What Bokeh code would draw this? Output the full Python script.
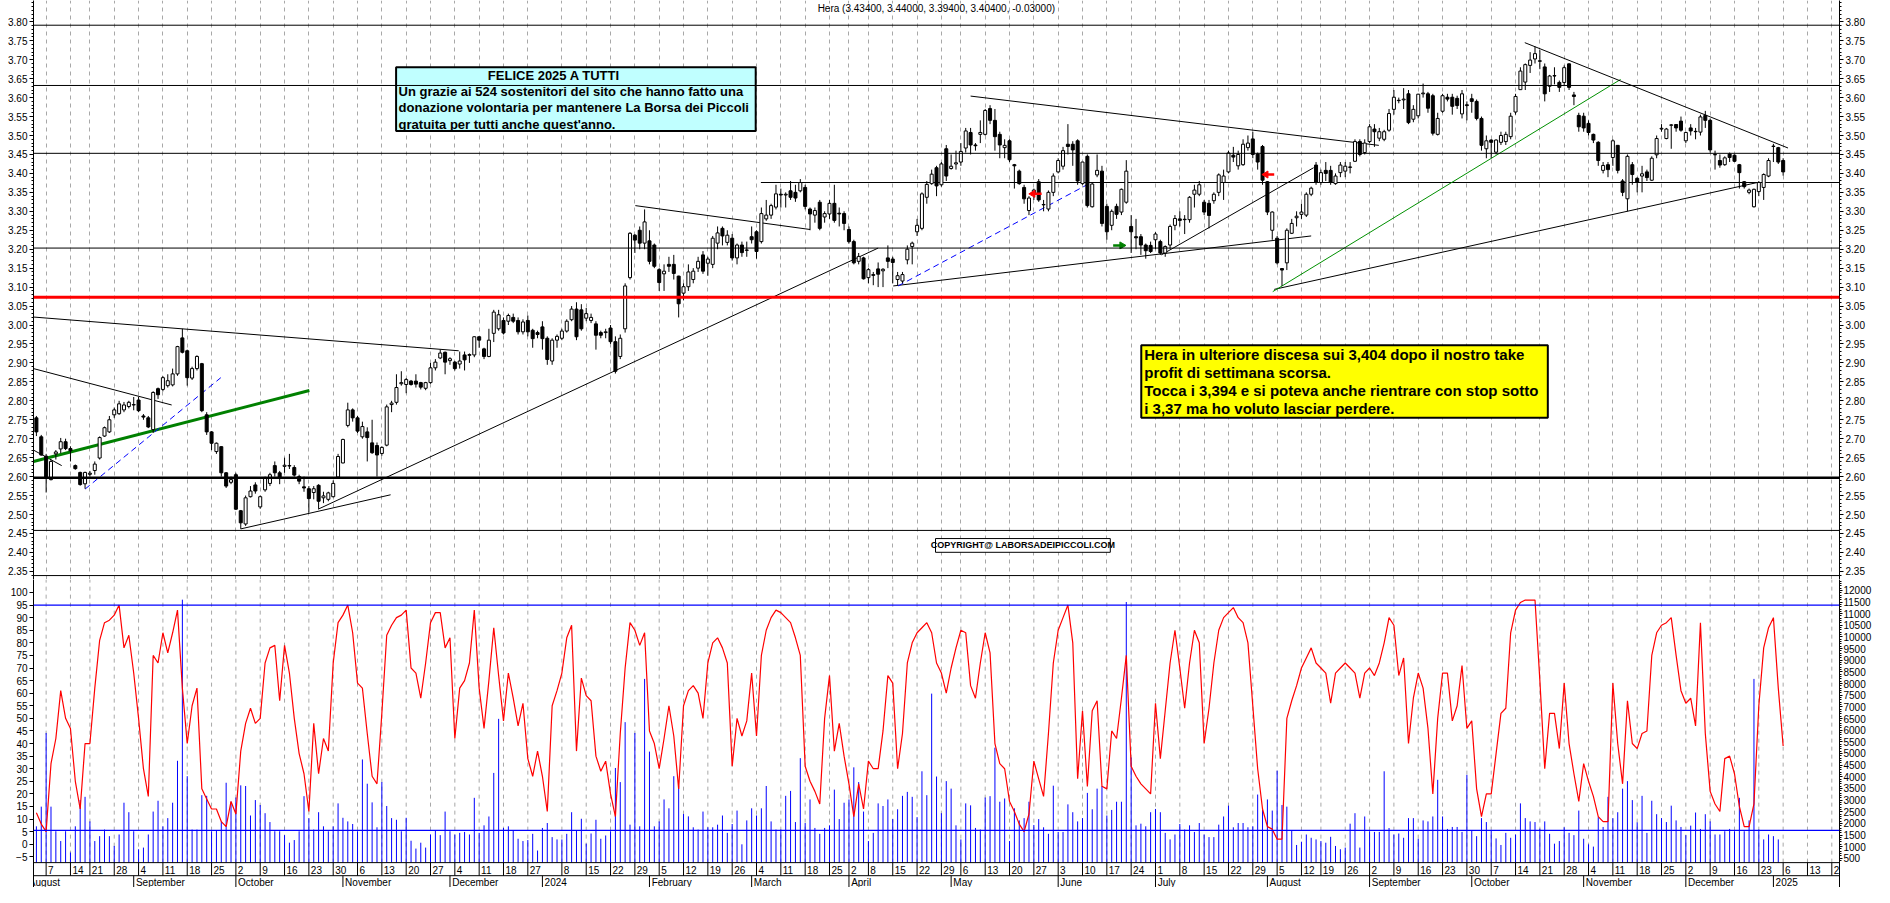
import numpy as np
import pandas as pd
from bokeh.plotting import figure
from bokeh.models import (Range1d, LinearAxis, FixedTicker, Grid, Span,
                          ColumnDataSource, PrintfTickFormatter)
from bokeh.layouts import column
from bokeh.core.properties import value
from bokeh.embed import file_html
from bokeh.resources import INLINE

# ---------------- data ----------------
FIRST_DAY = "2023-08-03"
CAL_START = "2023-08-01"
CAL_END = "2025-01-31"
HOLIDAYS = ["2023-08-15", "2023-12-25", "2023-12-26", "2024-01-01", "2024-03-29",
            "2024-04-01", "2024-05-01", "2024-08-15", "2024-12-24", "2024-12-25",
            "2024-12-26", "2024-12-31", "2025-01-01"]

open_ = [
 2.755,2.705,2.654,2.592,2.660,2.673,2.692,2.674,2.629,2.611,
 2.581,2.606,2.616,2.649,2.707,2.718,2.763,2.766,2.776,2.785,
 2.790,2.802,2.760,2.755,2.724,2.832,2.830,2.840,2.842,2.871,
 2.966,2.932,2.860,2.885,2.898,2.763,2.718,2.666,2.679,2.610,
 2.585,2.605,2.510,2.475,2.547,2.578,2.520,2.565,2.582,2.629,
 2.610,2.627,2.629,2.624,2.600,2.573,2.568,2.558,2.577,2.544,
 2.540,2.547,2.599,2.636,2.735,2.776,2.755,2.705,2.718,2.689,
 2.682,2.661,2.683,2.790,2.796,2.845,2.843,2.852,2.852,2.848,
 2.833,2.848,2.887,2.913,2.928,2.906,2.902,2.897,2.921,2.920,
 2.921,2.969,2.937,2.917,2.978,2.990,3.012,3.010,3.020,3.012,
 2.982,3.012,2.986,2.980,2.995,2.965,2.905,2.960,2.965,2.984,
 3.014,3.042,3.040,3.018,3.012,3.003,2.980,2.980,2.992,2.956,
 2.917,2.990,3.125,3.237,3.250,3.216,3.222,3.211,3.146,3.135,
 3.160,3.160,3.129,3.084,3.101,3.120,3.150,3.185,3.163,3.160,
 3.216,3.255,3.218,3.229,3.177,3.211,3.198,3.233,3.246,3.220,
 3.280,3.290,3.311,3.345,3.343,3.354,3.350,3.354,3.363,3.306,
 3.290,3.324,3.285,3.293,3.321,3.295,3.294,3.252,3.220,3.168,
 3.177,3.125,3.133,3.148,3.143,3.177,3.174,3.120,3.116,3.172,
 3.207,3.246,3.255,3.337,3.373,3.415,3.370,3.465,3.413,3.425,
 3.430,3.467,3.508,3.475,3.503,3.503,3.571,3.540,3.503,3.468,
 3.486,3.423,3.406,3.363,3.302,3.345,3.378,3.318,3.306,3.350,
 3.404,3.419,3.477,3.477,3.486,3.373,3.445,3.312,3.396,3.406,
 3.313,3.263,3.313,3.298,3.324,3.260,3.233,3.233,3.211,3.210,
 3.225,3.220,3.190,3.211,3.263,3.280,3.279,3.278,3.345,3.345,
 3.324,3.321,3.328,3.350,3.376,3.404,3.448,3.420,3.423,3.468,
 3.491,3.451,3.471,3.378,3.250,3.229,3.149,3.164,3.242,3.283,
 3.292,3.290,3.345,3.422,3.376,3.408,3.408,3.373,3.402,3.406,
 3.417,3.432,3.484,3.455,3.484,3.517,3.493,3.490,3.514,3.569,
 3.593,3.594,3.610,3.543,3.552,3.610,3.610,3.605,3.503,3.564,
 3.601,3.601,3.598,3.557,3.581,3.597,3.590,3.545,3.465,3.488,
 3.456,3.482,3.484,3.497,3.562,3.621,3.641,3.685,3.702,3.697,
 3.681,3.630,3.658,3.640,3.640,3.689,3.607,3.553,3.551,3.532,
 3.503,3.482,3.408,3.423,3.442,3.474,3.380,3.333,3.423,3.387,
 3.393,3.404,3.382,3.449,3.517,3.492,3.527,3.529,3.538,3.486,
 3.520,3.511,3.509,3.553,3.540,3.450,3.434,3.423,3.451,3.448,
 3.423,3.378,3.350,3.312,3.352,3.363,3.393,3.472,3.468,3.434]

high = [
 2.760,2.710,2.660,2.645,2.670,2.702,2.700,2.680,2.632,2.613,
 2.613,2.615,2.640,2.706,2.732,2.760,2.782,2.800,2.797,2.800,
 2.810,2.810,2.765,2.760,2.825,2.835,2.865,2.870,2.885,2.945,
 2.990,2.935,2.890,2.920,2.900,2.770,2.720,2.690,2.680,2.612,
 2.600,2.610,2.512,2.550,2.575,2.585,2.550,2.600,2.610,2.640,
 2.615,2.650,2.660,2.630,2.605,2.600,2.575,2.575,2.580,2.560,
 2.560,2.590,2.660,2.700,2.795,2.780,2.760,2.745,2.730,2.750,
 2.690,2.680,2.790,2.800,2.870,2.878,2.860,2.855,2.870,2.850,
 2.850,2.900,2.910,2.935,2.930,2.915,2.905,2.930,2.930,2.925,
 2.970,2.970,2.940,2.990,3.040,3.040,3.020,3.030,3.030,3.020,
 3.015,3.025,2.990,2.985,3.010,2.970,2.965,2.975,2.990,3.015,
 3.050,3.060,3.055,3.045,3.030,3.010,2.985,2.990,3.000,2.970,
 2.975,3.110,3.245,3.240,3.260,3.305,3.250,3.215,3.150,3.160,
 3.180,3.185,3.130,3.110,3.160,3.150,3.180,3.195,3.180,3.235,
 3.260,3.260,3.250,3.240,3.215,3.220,3.220,3.260,3.250,3.310,
 3.330,3.320,3.370,3.360,3.350,3.380,3.370,3.385,3.370,3.310,
 3.310,3.330,3.300,3.330,3.370,3.310,3.300,3.260,3.225,3.190,
 3.180,3.150,3.140,3.165,3.150,3.210,3.180,3.140,3.140,3.210,
 3.220,3.280,3.350,3.380,3.410,3.420,3.430,3.475,3.450,3.460,
 3.480,3.520,3.520,3.480,3.540,3.570,3.580,3.570,3.510,3.490,
 3.490,3.425,3.410,3.370,3.340,3.360,3.385,3.330,3.355,3.400,
 3.440,3.470,3.530,3.485,3.490,3.430,3.450,3.375,3.450,3.420,
 3.320,3.305,3.320,3.360,3.435,3.290,3.280,3.240,3.215,3.220,
 3.245,3.225,3.210,3.265,3.290,3.300,3.290,3.340,3.370,3.380,
 3.330,3.330,3.350,3.400,3.410,3.460,3.470,3.460,3.490,3.500,
 3.510,3.455,3.475,3.380,3.300,3.235,3.150,3.255,3.280,3.300,
 3.320,3.350,3.365,3.430,3.410,3.430,3.420,3.400,3.430,3.430,
 3.430,3.490,3.490,3.490,3.530,3.530,3.520,3.515,3.570,3.620,
 3.600,3.625,3.620,3.580,3.610,3.637,3.615,3.610,3.560,3.610,
 3.610,3.610,3.605,3.620,3.590,3.610,3.595,3.550,3.500,3.490,
 3.490,3.510,3.510,3.560,3.610,3.680,3.690,3.720,3.735,3.725,
 3.690,3.660,3.680,3.645,3.685,3.690,3.615,3.560,3.560,3.540,
 3.505,3.485,3.430,3.430,3.490,3.475,3.385,3.450,3.430,3.390,
 3.420,3.410,3.445,3.500,3.530,3.520,3.530,3.530,3.550,3.510,
 3.530,3.520,3.555,3.565,3.545,3.460,3.450,3.445,3.455,3.450,
 3.425,3.380,3.360,3.360,3.380,3.400,3.440,3.478,3.470,3.440]

low = [
 2.707,2.655,2.558,2.590,2.645,2.662,2.670,2.640,2.618,2.576,
 2.568,2.600,2.605,2.645,2.705,2.715,2.755,2.763,2.770,2.780,
 2.775,2.770,2.750,2.728,2.715,2.805,2.825,2.835,2.838,2.866,
 2.925,2.840,2.855,2.880,2.770,2.710,2.670,2.660,2.600,2.570,
 2.580,2.512,2.462,2.470,2.545,2.555,2.515,2.560,2.575,2.600,
 2.580,2.610,2.620,2.600,2.580,2.560,2.505,2.540,2.515,2.530,
 2.535,2.545,2.595,2.635,2.730,2.745,2.715,2.700,2.640,2.660,
 2.600,2.655,2.680,2.770,2.790,2.840,2.820,2.840,2.835,2.830,
 2.828,2.845,2.880,2.910,2.870,2.895,2.880,2.885,2.880,2.900,
 2.915,2.940,2.910,2.915,2.955,2.985,2.975,3.000,3.005,2.975,
 2.975,2.970,2.940,2.965,2.935,2.895,2.895,2.940,2.960,2.980,
 3.010,2.960,2.985,3.010,3.005,2.935,2.965,2.965,2.950,2.872,
 2.910,2.980,3.120,3.190,3.200,3.200,3.160,3.150,3.090,3.090,
 3.140,3.120,3.020,3.065,3.090,3.110,3.140,3.135,3.130,3.150,
 3.200,3.210,3.210,3.170,3.160,3.180,3.180,3.215,3.175,3.215,
 3.275,3.280,3.305,3.310,3.310,3.330,3.325,3.350,3.305,3.250,
 3.270,3.250,3.270,3.280,3.270,3.260,3.250,3.215,3.160,3.160,
 3.120,3.110,3.105,3.100,3.100,3.150,3.110,3.105,3.110,3.160,
 3.160,3.235,3.250,3.320,3.370,3.340,3.365,3.380,3.410,3.410,
 3.420,3.455,3.450,3.460,3.480,3.500,3.530,3.460,3.440,3.440,
 3.430,3.360,3.370,3.320,3.290,3.330,3.325,3.300,3.300,3.340,
 3.400,3.410,3.450,3.420,3.370,3.370,3.310,3.310,3.390,3.260,
 3.225,3.250,3.280,3.290,3.320,3.190,3.200,3.185,3.175,3.190,
 3.200,3.185,3.180,3.200,3.250,3.260,3.240,3.270,3.310,3.340,
 3.290,3.255,3.320,3.340,3.330,3.400,3.430,3.410,3.420,3.460,
 3.440,3.410,3.370,3.290,3.225,3.160,3.103,3.145,3.240,3.260,
 3.280,3.285,3.340,3.370,3.370,3.380,3.370,3.370,3.390,3.390,
 3.400,3.430,3.445,3.450,3.480,3.470,3.485,3.485,3.510,3.555,
 3.585,3.570,3.530,3.535,3.545,3.600,3.560,3.500,3.500,3.560,
 3.590,3.555,3.570,3.545,3.540,3.560,3.540,3.460,3.440,3.440,
 3.450,3.475,3.475,3.490,3.555,3.620,3.620,3.665,3.690,3.675,
 3.590,3.615,3.635,3.615,3.630,3.620,3.580,3.510,3.510,3.500,
 3.480,3.420,3.400,3.390,3.420,3.400,3.340,3.300,3.370,3.350,
 3.350,3.380,3.380,3.440,3.510,3.490,3.465,3.510,3.510,3.480,
 3.500,3.490,3.500,3.520,3.455,3.410,3.415,3.420,3.430,3.430,
 3.360,3.360,3.345,3.310,3.340,3.330,3.390,3.430,3.425,3.394]

close = [
 2.718,2.657,2.599,2.640,2.665,2.692,2.674,2.668,2.621,2.579,
 2.611,2.609,2.633,2.703,2.729,2.750,2.776,2.792,2.789,2.796,
 2.789,2.774,2.757,2.731,2.822,2.816,2.861,2.853,2.871,2.943,
 2.928,2.861,2.885,2.917,2.774,2.718,2.688,2.688,2.610,2.575,
 2.592,2.514,2.478,2.544,2.562,2.562,2.547,2.597,2.605,2.610,
 2.599,2.630,2.628,2.604,2.588,2.570,2.542,2.568,2.535,2.549,
 2.557,2.582,2.653,2.698,2.776,2.755,2.720,2.732,2.703,2.663,
 2.657,2.677,2.784,2.794,2.835,2.848,2.856,2.843,2.844,2.836,
 2.848,2.887,2.902,2.926,2.902,2.911,2.885,2.905,2.908,2.922,
 2.969,2.960,2.917,2.960,3.034,3.027,2.979,3.025,3.010,2.982,
 3.008,2.982,2.964,2.975,2.964,2.909,2.960,2.970,2.984,3.010,
 3.042,2.969,2.990,3.030,3.020,2.973,2.973,2.982,2.956,2.878,
 2.965,3.103,3.242,3.224,3.216,3.272,3.168,3.155,3.112,3.142,
 3.155,3.136,3.056,3.101,3.140,3.142,3.168,3.142,3.174,3.229,
 3.243,3.235,3.237,3.177,3.211,3.191,3.197,3.225,3.194,3.294,
 3.290,3.315,3.346,3.343,3.345,3.337,3.335,3.376,3.313,3.293,
 3.302,3.255,3.294,3.321,3.276,3.293,3.268,3.220,3.164,3.181,
 3.122,3.146,3.131,3.134,3.147,3.168,3.165,3.130,3.133,3.200,
 3.216,3.263,3.346,3.371,3.398,3.367,3.425,3.393,3.419,3.428,
 3.458,3.512,3.475,3.473,3.508,3.566,3.540,3.497,3.475,3.474,
 3.436,3.420,3.373,3.333,3.335,3.356,3.330,3.317,3.350,3.393,
 3.434,3.460,3.471,3.462,3.380,3.430,3.315,3.372,3.408,3.268,
 3.246,3.300,3.292,3.358,3.406,3.246,3.230,3.211,3.196,3.194,
 3.240,3.190,3.207,3.260,3.281,3.276,3.278,3.337,3.356,3.370,
 3.298,3.289,3.345,3.396,3.393,3.454,3.443,3.450,3.477,3.480,
 3.450,3.430,3.382,3.298,3.298,3.164,3.145,3.250,3.268,3.287,
 3.298,3.345,3.361,3.376,3.402,3.400,3.376,3.393,3.422,3.419,
 3.416,3.484,3.450,3.480,3.523,3.510,3.510,3.510,3.558,3.601,
 3.592,3.596,3.534,3.569,3.609,3.612,3.572,3.506,3.545,3.605,
 3.596,3.577,3.579,3.610,3.579,3.590,3.545,3.474,3.486,3.482,
 3.488,3.500,3.503,3.551,3.603,3.670,3.687,3.699,3.716,3.696,
 3.610,3.657,3.657,3.627,3.679,3.627,3.603,3.523,3.520,3.508,
 3.488,3.434,3.421,3.410,3.486,3.408,3.350,3.445,3.397,3.376,
 3.399,3.389,3.440,3.492,3.519,3.517,3.528,3.520,3.514,3.508,
 3.512,3.510,3.549,3.540,3.462,3.449,3.422,3.441,3.442,3.432,
 3.402,3.365,3.356,3.358,3.376,3.397,3.434,3.471,3.430,3.404]

stoch = [
 12.5,8,5,32,42,61,50,46,25,14, 40,40,62,81,88,89,91,95,78,83,
 68,50,30,19,75,72,84,76,84,93, 62,40,55,62,22,18,14,14,9,7,
 17,12,37,48,54,48,50,72,78,79, 57,79,68,50,36,28,13,48,28,42,
 37,72,88,91,95,84,64,62,44,27, 24,52,83,87,90,91,93,70,68,58,
 72,88,92,92,78,82,42,62,65,72, 93,62,46,65,86,67,49,68,58,47,
 56,34,27,37,27,13,55,61,68,82, 87,37,66,59,57,35,29,33,20,11,
 44,70,88,85,79,84,45,40,30,42, 55,43,22,55,61,
 63,60,50,72,80,82,78,72,31,50, 43,49,68,43,75,85,90,93,92,90,
 88,82,75,31,25,21,16,50,67,37, 48,35,24,11,24,14,33,30,30,45,
 67,64,30,44,72,80,84,86,88,84, 72,68,60,70,78,85,84,63,58,72,
 84,76,40,32,30,17,13,8,5,12, 33,26,19,44,72,85,90,95,80,26,
 53,23,53,57,23,22,45,42,58,75, 31,27,24,22,20,56,34,53,72,85,
 70,54,72,85,80,40,54,72,85,90, 92,94,90,88,80,55,30,14,7,6,
 2,2,50,57,63,70,74,78,72,70, 68,56,68,70,72,70,68,58,68,70,
 67,72,80,90,
 87,67,74,40,58,68,62,46,20,50, 68,68,49,55,71,46,49,22,11,20,
 20,36,52,54,84,93,96,97,97,97, 65,30,52,52,38,64,40,28,17,32,
 25,19,11,9,9,64,40,24,57,40, 38,44,45,75,84,87,88,90,75,61,
 56,58,47,88,44,21,16,13,34,35, 28,15,7,7,16,55,78,86,90,62,
 39]

volume = [
 1873,2717,5880,2717,1662,1240,1662,749,1873,3000,
 3139,2084,1240,1451,1733,1451,1030,1522,2886,2478,
 1662,889,960,1522,2506,2970,1873,2225,2886,4685,
 11600,4024,1733,1733,3209,3181,1662,1690,2084,3743,
 2928,3110,3631,3603,2337,3000,2787,2436,2056,1662,
 1662,1494,1170,1283,1662,3167,2225,1733,2478,1873,
 1662,1873,2857,2239,2084,1972,1662,4742,3701,2900,
 1831,3771,2745,2225,2154,1662,2239,1254,917,1170,
 960,1522,1704,1494,2506,1662,1522,1592,1634,1522,
 3096,1592,1915,2295,4165,6485,1803,1873,1704,1339,
 1240,1283,1550,833,1803,2014,1409,1311,1311,1550,
 2478,1704,2197,1128,1564,2154,1339,1480,1662,4376,
 3771,6344,1944,5880,1873,8200,5079,1873,2084,3026,
 2646,4024,3617,2400,2300,
 1831,1733,2506,1831,1831,1944,2337,1592,1972,2548,
 1100,2126,2646,2337,2646,3603,2084,1733,1733,3181,
 3392,2056,4798,2014,3026,1803,1550,1803,1915,3448,
 2183,2886,3026,4404,3771,2506,1240,1592,2857,2745,
 3026,2183,2604,3181,3350,3139,2267,4235,3209,7568,
 4010,2436,3813,3490,1915,1311,2857,2773,1803,1733,
 3110,3167,5248,2928,3068,1240,2646,2126,2225,2928,
 1930,2183,1831,1550,3617,1634,1634,2815,2478,2084,
 2225,3307,2604,3490,3603,2337,2576,2928,2928,11500,
 4826,1915,1986,1873,2478,2618,2478,1592,1311,1522,
 1972,1733,1915,1634,2014,1522,1409,1409,1944,2295,
 2759,1831,2014,2014,1831,1873,3237,2576,3026,2548,
 4263,2787,2717,1690,1072,1212,1522,1381,1311,1240,
 1170,1423,1030,889,960,1986,2436,960,2295,1662,
 1634,1634,4235,1800,
 1522,1564,1381,2225,2225,1339,2126,2084,2295,3870,
 2295,1761,1845,1845,1634,4081,1704,1451,2225,2056,
 1704,1353,1072,1592,1381,1522,2857,2225,2084,2056,
 1775,2084,1550,1128,1240,1831,1592,1494,2548,1339,
 1100,1002,2267,1845,3139,2225,2478,3490,3813,2998,
 2042,3181,1592,2970,2393,2225,2056,2759,2126,1845,
 1494,1902,2464,1761,2393,2084,1522,1522,1662,1761,
 1662,3096,1662,2126,8200,1733,1311,1522,1451,1311]

# horizontal support / resistance levels (price, width, colour)
levels = [(3.791, 1, "black"), (3.632, 1, "black"), (3.453, 1, "black"),
          (3.203, 1, "black"), (3.073, 3, "red"), (2.597, 2.5, "black"),
          (2.458, 1, "black")]
partial_level = (148.9, 3.376)   # starts at trading-day index 148.9

# drawn trend lines: (i0, p0, i1, p1, colour, width, dash)
trend_lines = [
    (-0.6, 3.021, 86.8, 2.932, "black", 1, "solid"),
    (-0.6, 2.885, 27.8, 2.789, "black", 1, "solid"),
    (-0.6, 2.670, 5.2, 2.629, "black", 1, "solid"),
    (-0.6, 2.640, 56.1, 2.827, "#008000", 3, "solid"),
    (10.0, 2.567, 37.9, 2.861, "blue", 1, "6 4"),
    (42.0, 2.462, 72.8, 2.552, "black", 1, "solid"),
    (57.9, 2.514, 173.0, 3.203, "black", 1, "solid"),
    (123.1, 3.315, 159.0, 3.252, "black", 1, "solid"),
    (176.1, 3.103, 262.0, 3.235, "black", 1, "solid"),
    (192.0, 3.604, 275.9, 3.474, "black", 1, "solid"),
    (231.2, 3.185, 262.5, 3.415, "black", 1, "solid"),
    (254.4, 3.094, 353.7, 3.376, "black", 1, "solid"),
    (254.1, 3.088, 325.6, 3.648, "#009000", 1, "solid"),
    (305.9, 3.745, 360.0, 3.467, "black", 1, "solid"),
    (177.1, 3.103, 216.8, 3.376, "blue", 1, "6 4"),
]
# small arrows: (head index, tail index, price, colour)
arrows = [(204.8, 206.6, 3.346, "red"), (252.7, 254.4, 3.397, "red"),
          (223.1, 221.3, 3.210, "#008000")]

header = "Hera (3.43400, 3.44000, 3.39400, 3.40400, -0.03000)"
cyan_title = "FELICE 2025 A TUTTI"
cyan_lines = ["Un grazie ai 524 sostenitori del sito che hanno fatto una",
              "donazione volontaria per mantenere La Borsa dei Piccoli",
              "gratuita per tutti anche quest'anno."]
yellow_lines = ["Hera in ulteriore discesa sui 3,404 dopo il nostro take",
                "profit di settimana scorsa.",
                "Tocca i 3,394 e si poteva anche rientrare con stop sotto",
                "i 3,37 ma ho voluto lasciar perdere."]
copyright_text = "COPYRIGHT@ LABORSADEIPICCOLI.COM"
month_names = {2: "February", 3: "March", 4: "April", 5: "May", 6: "June",
               7: "July", 8: "August", 9: "September", 10: "October",
               11: "November", 12: "December"}

# ---------------- geometry helpers (reference pixels -> data) ----------------
def ix(xpx):
    return (xpx - 43.9) / 4.871

def py(ypx):
    return 3.80 - (ypx - 21.7) / 386.0

def vy(ypx):
    return (859.0 - ypx) / 2.561

def vv(ypx):
    return 500 + (873.3 - ypx) / 0.0237

FONT = "Liberation Sans"
W = 1874
SPLIT = 589.7          # reference pixel row where price frame ends
XR = Range1d(ix(41), ix(1849))

# ---------------- trading calendar ----------------
days = pd.bdate_range(CAL_START, CAL_END)
days = days[~days.isin(pd.to_datetime(HOLIDAYS))]
pos0 = int(np.where(days == pd.Timestamp(FIRST_DAY))[0][0])
cal = pd.DataFrame({"d": days, "i": np.arange(len(days)) - pos0})
cal["wk"] = cal["d"].dt.to_period("W-SUN")
cal["ym"] = cal["d"].dt.to_period("M")
year_first = cal.groupby(cal["d"].dt.year).first()
skip_weeks = set(year_first["wk"])
wk_first = cal.groupby("wk").first()
wk_first = wk_first[(wk_first["i"] >= 2) & (wk_first["i"] <= XR.end)]
wk_first = wk_first[[w not in skip_weeks for w in wk_first.index]]
week_idx = [int(v) for v in wk_first["i"]]
week_lbl = [str(d.day) for d in wk_first["d"]]
mo_first = cal.groupby("ym").first()
mo_first = mo_first[mo_first["i"] <= XR.end]
month_idx = [int(v) for v in mo_first["i"]]
month_lbl = [str(d.year) if d.month == 1 else month_names[d.month] for d in mo_first["d"]]

n = len(close)
xi = np.arange(n)
o = np.array(open_); c = np.array(close)

def style_axis(ax, standoff=2, tick_out=4):
    ax.axis_line_color = "black"
    ax.major_tick_line_color = "black"
    ax.minor_tick_line_color = "black"
    ax.major_tick_out = tick_out
    ax.major_tick_in = 0
    ax.minor_tick_out = 2
    ax.minor_tick_in = 0
    ax.major_label_text_font = FONT
    ax.major_label_text_font_size = "10px"
    ax.major_label_text_color = "black"
    ax.major_label_standoff = standoff

# ---------------- price panel ----------------
price = figure(width=W, height=579, x_range=XR, y_range=Range1d(py(SPLIT), py(0)),
               output_backend="svg", toolbar_location=None, x_axis_location=None,
               y_axis_location="left", min_border_left=33, min_border_right=33,
               min_border_top=0, min_border_bottom=0)
price.center = [r for r in price.center if not isinstance(r, Grid)]
price.outline_line_color = None
price.add_layout(Grid(dimension=0, ticker=FixedTicker(ticks=week_idx),
                      grid_line_color="#a8a8a8", grid_line_dash="4 4", grid_line_width=1))

p_ticks = [round(2.35 + 0.05 * k, 2) for k in range(30)]
p_minor = [round(2.34 + 0.01 * k, 2) for k in range(152)]
pax = price.yaxis[0]
pax.ticker = FixedTicker(ticks=p_ticks, minor_ticks=p_minor)
pax.formatter = PrintfTickFormatter(format="%.2f")
style_axis(pax)
pax_r = LinearAxis(ticker=FixedTicker(ticks=p_ticks, minor_ticks=p_minor),
                   formatter=PrintfTickFormatter(format="%.2f"))
style_axis(pax_r)
price.add_layout(pax_r, "right")

price.add_layout(Span(location=py(585.7), dimension="width", line_color="black", line_width=1))
for lv, lw, col in levels:
    price.add_layout(Span(location=lv, dimension="width", line_color=col, line_width=lw))
price.segment(x0=[partial_level[0]], y0=[partial_level[1]], x1=[XR.end + 1],
              y1=[partial_level[1]], line_color="black", line_width=1)

for (a0, b0, a1, b1, col, lw, dash) in trend_lines:
    price.segment(x0=[a0], y0=[b0], x1=[a1], y1=[b1], line_color=col,
                  line_width=lw, line_dash=dash)

csrc = ColumnDataSource(dict(x=xi, h=high, l=low, top=np.maximum(o, c),
                             bot=np.minimum(o, c),
                             fill=np.where(c >= o, "white", "black")))
price.segment(x0="x", y0="l", x1="x", y1="h", source=csrc, line_color="black", line_width=1)
price.vbar(x="x", width=0.62, top="top", bottom="bot", fill_color="fill",
           line_color="black", line_width=1, source=csrc)

for (hd, tl, pr, col) in arrows:
    price.segment(x0=[hd], y0=[pr], x1=[tl], y1=[pr], line_color=col, line_width=2.5)
    ang = np.pi / 2 if tl > hd else -np.pi / 2
    price.scatter(x=[hd], y=[pr], marker="triangle", size=7, angle=ang,
                  fill_color=col, line_color=col)

price.text(x=[ix(826)], y=[py(8)], text=[header], text_font=value(FONT),
           text_font_size="10px", text_baseline="middle", text_align="left",
           text_color="black")

# cyan box
price.quad(left=[ix(404)], right=[ix(764)], top=[py(68)], bottom=[py(133)],
           fill_color="#c0ffff", line_color="black", line_width=2)
price.text(x=[ix(562)], y=[py(76.5)], text=[cyan_title], text_font=value(FONT),
           text_font_size="13px", text_font_style="bold", text_align="center",
           text_baseline="middle", text_color="black")
price.text(x=[ix(406.5)] * 3, y=[py(92.7), py(109.2), py(125.8)], text=cyan_lines,
           text_font=value(FONT), text_font_size="13px", text_font_style="bold",
           text_align="left", text_baseline="middle", text_color="black")

# yellow box
price.quad(left=[ix(1150)], right=[ix(1557)], top=[py(351)], bottom=[py(425)],
           fill_color="#ffff00", line_color="black", line_width=2)
price.text(x=[ix(1153)] * 4, y=[py(360.5), py(379), py(397.5), py(416)], text=yellow_lines,
           text_font=value(FONT), text_font_size="15px", text_font_style="bold",
           text_align="left", text_baseline="middle", text_color="black")

# copyright box
price.quad(left=[ix(944)], right=[ix(1119)], top=[py(548)], bottom=[py(562)],
           fill_color="white", line_color="black", line_width=1)
price.text(x=[ix(1031.5)], y=[py(555)], text=[copyright_text], text_font=value(FONT),
           text_font_size="9px", text_font_style="bold", text_align="center",
           text_baseline="middle", text_color="black")

# ---------------- oscillator panel + date rows ----------------
osc = figure(width=W, height=308, x_range=XR, y_range=Range1d(vy(903), vy(SPLIT)),
             output_backend="svg", toolbar_location=None, x_axis_location=None,
             y_axis_location="left", min_border_left=33, min_border_right=33,
             min_border_top=0, min_border_bottom=0)
osc.center = [r for r in osc.center if not isinstance(r, Grid)]
osc.extra_y_ranges = {"vol": Range1d(vv(903), vv(SPLIT)), "px": Range1d(903, SPLIT)}
osc.outline_line_color = None

oax = osc.yaxis[0]
oax.ticker = FixedTicker(ticks=list(range(-5, 101, 5)))
style_axis(oax)
vax = LinearAxis(y_range_name="vol",
                 ticker=FixedTicker(ticks=list(range(500, 12001, 500)),
                                    minor_ticks=list(range(400, 12700, 100))))
style_axis(vax, standoff=1, tick_out=3)
osc.add_layout(vax, "right")

nw = len(week_idx)
osc.segment(x0=week_idx, y0=[877.7] * nw, x1=week_idx, y1=[SPLIT] * nw, y_range_name="px",
            line_color="#a8a8a8", line_dash="4 4", line_width=1)

xv = np.arange(len(volume))
osc.segment(x0=xv, y0=[vv(877.7)] * len(volume), x1=xv, y1=volume, y_range_name="vol",
            line_color="blue", line_width=1)
osc.add_layout(Span(location=95, dimension="width", line_color="blue", line_width=1.3))
osc.add_layout(Span(location=5.5, dimension="width", line_color="blue", line_width=1.3))
osc.line(x=xi, y=stoch, line_color="red", line_width=1.2)

# date rows
osc.add_layout(Span(location=877.7, dimension="width", y_range_name="px",
                    line_color="black", line_width=1))
osc.add_layout(Span(location=891, dimension="width", y_range_name="px",
                    line_color="black", line_width=1))
osc.segment(x0=week_idx, y0=[877.7] * nw, x1=week_idx, y1=[891] * nw, y_range_name="px",
            line_color="black", line_width=1)
osc.text(x=[w + 0.4 for w in week_idx], y=[884.8] * nw, text=week_lbl, y_range_name="px",
         text_font=value(FONT), text_font_size="10px", text_baseline="middle",
         text_align="left", text_color="black")
nm = len(month_idx)
osc.segment(x0=month_idx, y0=[891] * nm, x1=month_idx, y1=[903] * nm, y_range_name="px",
            line_color="black", line_width=1)
osc.text(x=[m + 0.45 for m in month_idx], y=[897.6] * nm, text=month_lbl, y_range_name="px",
         text_font=value(FONT), text_font_size="10px", text_baseline="middle",
         text_align="left", text_color="black")

layout = column(price, osc)
open("out.html", "w").write(file_html(layout, INLINE))
